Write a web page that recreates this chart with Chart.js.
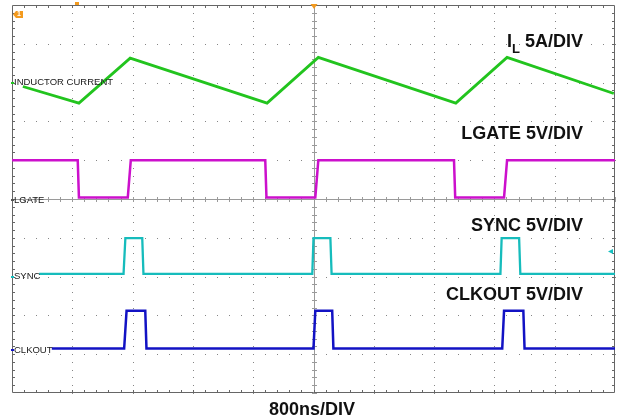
<!DOCTYPE html>
<html>
<head>
<meta charset="utf-8">
<script src="https://cdn.jsdelivr.net/npm/chart.js@4/dist/chart.umd.min.js"></script>
<style>
  body { margin: 0; background: #fff; }
  canvas { display: block; }
</style>
</head>
<body>
<canvas id="scope" width="622" height="420"></canvas>
<script>
// scope screen: 10 x 10 divisions, x = time in div (800ns/div), y = div from bottom
const inductor_x = [0.18, 1.11, 1.96, 4.23, 5.08, 7.36, 8.21, 9.98];
const inductor_y = [7.90, 7.47, 8.63, 7.47, 8.65, 7.47, 8.65, 7.72];

const lgate_x = [0, 1.09, 1.11, 1.92, 1.97, 4.20, 4.22, 5.03, 5.08, 7.33, 7.35, 8.16, 8.21, 10];
const lgate_y = [6.0, 6.0, 5.04, 5.04, 6.0, 6.0, 5.04, 5.04, 6.0, 6.0, 5.04, 5.04, 6.0, 6.0];

const sync_x = [0.45, 1.85, 1.88, 2.16, 2.18, 4.98, 5.0, 5.28, 5.30, 8.10, 8.12, 8.41, 8.43, 10];
const sync_y = [3.07, 3.07, 3.99, 3.99, 3.07, 3.07, 3.99, 3.99, 3.07, 3.07, 3.99, 3.99, 3.07, 3.07];

const clkout_x = [0.66, 1.86, 1.90, 2.21, 2.23, 5.0, 5.03, 5.31, 5.33, 8.13, 8.16, 8.48, 8.50, 10];
const clkout_y = [1.15, 1.15, 2.12, 2.12, 1.15, 1.15, 2.12, 2.12, 1.15, 1.15, 2.12, 2.12, 1.15, 1.15];

const left_labels = ['INDUCTOR CURRENT', 'LGATE', 'SYNC', 'CLKOUT'];
const left_label_y = [8.02, 5.0, 3.02, 1.13];
const time_label = '800ns/DIV';

function pts(xs, ys) {
    return xs.map((x, i) => ({ x: x, y: ys[i] }));
}

// grid dots, centre cross ticks, frame ticks
const scopeGrid = {
    id: 'scopeGrid',
    beforeDatasetsDraw(chart) {
        const ctx = chart.ctx;
        const xs = chart.scales.x, ys = chart.scales.y;
        const a = chart.chartArea;
        ctx.save();
        ctx.fillStyle = '#858585';
        for (let i = 1; i < 10; i++) {
            if (i === 5) continue;
            const px = Math.round(xs.getPixelForValue(i));
            for (let j = 0; j <= 50; j++) {
                const py = Math.round(ys.getPixelForValue(j / 5));
                ctx.fillRect(px, py, 1, 1);
            }
            const hy = Math.round(ys.getPixelForValue(i));
            for (let j = 0; j <= 50; j++) {
                const hx = Math.round(xs.getPixelForValue(j / 5));
                ctx.fillRect(hx, hy, 1, 1);
            }
        }
        // centre cross
        ctx.strokeStyle = '#9a9a9a';
        ctx.lineWidth = 1;
        const cx = Math.round(xs.getPixelForValue(5)) + 0.5;
        const cy = Math.round(ys.getPixelForValue(5)) + 0.5;
        ctx.beginPath();
        ctx.moveTo(cx, a.top); ctx.lineTo(cx, a.bottom);
        ctx.moveTo(a.left, cy); ctx.lineTo(a.right, cy);
        for (let j = 0; j <= 50; j++) {
            const ty = Math.round(ys.getPixelForValue(j / 5)) + 0.5;
            ctx.moveTo(cx - 2.5, ty); ctx.lineTo(cx + 2.5, ty);
            const tx = Math.round(xs.getPixelForValue(j / 5)) + 0.5;
            ctx.moveTo(tx, cy - 2.5); ctx.lineTo(tx, cy + 2.5);
        }
        ctx.stroke();
        // frame + edge ticks
        ctx.strokeStyle = '#666';
        ctx.beginPath();
        ctx.rect(a.left + 0.5, a.top + 0.5, a.right - a.left - 1, a.bottom - a.top - 1);
        for (let j = 1; j < 50; j++) {
            const tx = Math.round(xs.getPixelForValue(j / 5)) + 0.5;
            ctx.moveTo(tx, a.top); ctx.lineTo(tx, a.top + 3);
            ctx.moveTo(tx, a.bottom); ctx.lineTo(tx, a.bottom - 3);
            const ty = Math.round(ys.getPixelForValue(j / 5)) + 0.5;
            ctx.moveTo(a.left, ty); ctx.lineTo(a.left + 3, ty);
            ctx.moveTo(a.right, ty); ctx.lineTo(a.right - 3, ty);
        }
        ctx.stroke();
        ctx.restore();
    }
};

const scopeText = {
    id: 'scopeText',
    afterDatasetsDraw(chart) {
        const ctx = chart.ctx;
        const xs = chart.scales.x, ys = chart.scales.y;
        const a = chart.chartArea;
        ctx.save();
        // markers
        ctx.fillStyle = '#f39a1e';
        ctx.beginPath();
        ctx.moveTo(a.left + 1, 14.5); ctx.lineTo(a.left + 4, 11); ctx.lineTo(a.left + 11, 11);
        ctx.lineTo(a.left + 11, 18); ctx.lineTo(a.left + 4, 18); ctx.closePath();
        ctx.fill();
        ctx.fillStyle = '#fff';
        ctx.font = 'bold 7px "Liberation Sans", Arial, sans-serif';
        ctx.textAlign = 'center';
        ctx.textBaseline = 'middle';
        ctx.fillText('1', a.left + 7, 14.5);
        ctx.fillStyle = '#f39a1e';
        const tx = xs.getPixelForValue(5) + 0.5;
        ctx.beginPath();
        ctx.moveTo(tx - 3.5, a.top - 1); ctx.lineTo(tx + 3.5, a.top - 1); ctx.lineTo(tx, a.top + 4);
        ctx.closePath(); ctx.fill();
        ctx.fillRect(75, 2, 4, 3);
        ctx.fillStyle = '#14c0c0';
        const ly = ys.getPixelForValue(3.65);
        ctx.beginPath();
        ctx.moveTo(a.right - 7, ly); ctx.lineTo(a.right - 2, ly - 2.5); ctx.lineTo(a.right - 2, ly + 2.5);
        ctx.closePath(); ctx.fill();

        // left channel labels
        ctx.fillStyle = '#1a1a1a';
        ctx.font = '9.5px "Liberation Sans", Arial, sans-serif';
        ctx.textAlign = 'left';
        ctx.textBaseline = 'middle';
        left_labels.forEach((t, i) => {
            ctx.fillText(t, a.left + 2, ys.getPixelForValue(left_label_y[i]) + 1);
        });
        const markCol = ['#22c422', '#555', '#14c0c0', '#1414c8'];
        markCol.forEach((c, i) => {
            ctx.fillStyle = c;
            ctx.fillRect(a.left - 1, Math.round(ys.getPixelForValue(left_label_y[i])), 3, 2);
        });

        // right scale labels
        ctx.fillStyle = '#111';
        ctx.textBaseline = 'alphabetic';
        ctx.textAlign = 'right';
        const big = 'bold 18px "Liberation Sans", Arial, sans-serif';
        ctx.font = big;
        const rx = 583;
        ctx.fillText(' 5A/DIV', rx, 47);
        let w = ctx.measureText(' 5A/DIV').width;
        ctx.font = 'bold 13px "Liberation Sans", Arial, sans-serif';
        ctx.fillText('L', rx - w, 53);
        w += ctx.measureText('L').width;
        ctx.font = big;
        ctx.fillText('I', rx - w, 47);
        ctx.fillText('LGATE 5V/DIV', rx, 139);
        ctx.fillText('SYNC 5V/DIV', rx, 231);
        ctx.fillText('CLKOUT 5V/DIV', rx, 300);
        ctx.textAlign = 'center';
        ctx.fillText(time_label, 312, 415);
        ctx.restore();
    }
};

const trace = (label, data, color, width) => ({
    label: label,
    data: data,
    showLine: true,
    borderColor: color,
    backgroundColor: color,
    borderWidth: width,
    pointRadius: 0,
    tension: 0
});

const config_scope = {
    type: 'scatter',
    data: {
        datasets: [
            trace('Inductor current', pts(inductor_x, inductor_y), '#22c41e', 2.8),
            trace('LGATE', pts(lgate_x, lgate_y), '#cc10cc', 2.5),
            trace('SYNC', pts(sync_x, sync_y), '#16bcbc', 2.3),
            trace('CLKOUT', pts(clkout_x, clkout_y), '#1212c4', 2.5)
        ]
    },
    options: {
        responsive: false,
        animation: false,
        devicePixelRatio: 1,
        layout: { padding: { left: 12, top: 5, right: 7, bottom: 27 } },
        plugins: { legend: { display: false }, tooltip: { enabled: false } },
        scales: {
            x: { type: 'linear', min: 0, max: 10, display: false },
            y: { type: 'linear', min: 0, max: 10, display: false }
        }
    },
    plugins: [scopeGrid, scopeText]
};

var chartscope = new Chart(document.getElementById('scope'), config_scope);
</script>
</body>
</html>
